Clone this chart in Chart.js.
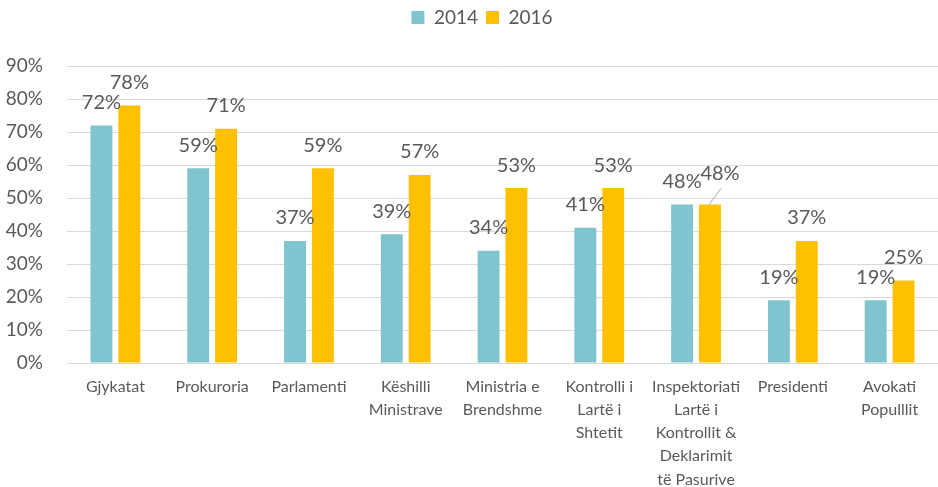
<!DOCTYPE html>
<html lang="en">
<head>
  <meta charset="UTF-8" />
  <title>Besimi në institucione 2014 / 2016</title>
  <script src="https://cdnjs.cloudflare.com/ajax/libs/Chart.js/4.4.1/chart.umd.js"></script>
  <style>
    body {
      margin: 0;
      background: #fff;
    }
    #wrap {
      width: 938px;
      height: 487px;
    }
  </style>
</head>
<body>
  <div id="wrap"><canvas id="bars"></canvas></div>

  <script>
    const categories = [
      'Gjykatat',
      'Prokuroria',
      'Parlamenti',
      ['Këshilli', 'Ministrave'],
      ['Ministria e', 'Brendshme'],
      ['Kontrolli i', 'Lartë i', 'Shtetit'],
      ['Inspektoriati', 'Lartë i', 'Kontrollit &', 'Deklarimit', 'të Pasurive'],
      'Presidenti',
      ['Avokati', 'Populllit'],
    ];
    const values2014 = [72, 59, 37, 39, 34, 41, 48, 19, 19];
    const values2016 = [78, 71, 59, 57, 53, 53, 48, 37, 25];
    const yTicks = [0, 10, 20, 30, 40, 50, 60, 70, 80, 90];

    const textColor = '#595959';
    const fontFamily = 'Lato, "Open Sans", sans-serif';

    // value labels above each bar, Excel style
    const valueLabels = {
      id: 'valueLabels',
      afterDatasetsDraw(chart) {
        const ctx = chart.ctx;
        ctx.save();
        ctx.font = '20px ' + fontFamily;
        ctx.fillStyle = textColor;
        ctx.textAlign = 'center';
        ctx.textBaseline = 'middle';
        chart.data.datasets.forEach((ds, di) => {
          chart.getDatasetMeta(di).data.forEach((bar, i) => {
            let x = bar.x, y = bar.y - 23;
            // the crowded 2016 label on Inspektoriati is pushed aside with a leader line
            if (di === 1 && i === 6) {
              x += 10;
              y -= 8;
              ctx.strokeStyle = '#a6a6a6';
              ctx.lineWidth = 1;
              ctx.beginPath();
              ctx.moveTo(x + 1, y + 15);
              ctx.lineTo(bar.x - 1, bar.y);
              ctx.stroke();
            }
            ctx.fillText(ds.data[i] + '%', x, y);
          });
        });
        ctx.restore();
      }
    };

    // fixed legend band height so the plot starts where the original does,
    // and the legend sits a little right of the canvas centre like the original
    const legendBand = {
      id: 'legendBand',
      beforeInit(chart) {
        const fit = chart.legend.fit;
        chart.legend.fit = function () {
          fit.call(this);
          this.height = 66;
        };
      },
      afterLayout(chart) {
        chart.legend.left += 13;
        chart.legend.right += 13;
      }
    };

    new Chart(document.getElementById('bars'), {
      type: 'bar',
      data: {
        labels: categories,
        datasets: [
          {
            label: '2014',
            data: values2014,
            backgroundColor: '#7fc4cf',
            categoryPercentage: 0.576,
            barPercentage: 0.786,
          },
          {
            label: '2016',
            data: values2016,
            backgroundColor: '#ffc000',
            categoryPercentage: 0.576,
            barPercentage: 0.786,
          }
        ]
      },
      options: {
        responsive: true,
        maintainAspectRatio: false,
        animation: false,
        layout: {
          padding: 0
        },
        plugins: {
          legend: {
            position: 'top',
            labels: {
              boxWidth: 13,
              boxHeight: 13,
              padding: 8,
              color: textColor,
              font: { size: 19, family: fontFamily },
            }
          },
          tooltip: { enabled: false }
        },
        scales: {
          x: {
            grid: { display: false },
            border: { color: '#d9d9d9', width: 1 },
            afterFit: scale => { scale.height = 124; },
            ticks: {
              color: textColor,
              font: { size: 16, family: fontFamily, lineHeight: 1.45 },
              maxRotation: 0,
              autoSkip: false,
              padding: 4,
            }
          },
          y: {
            min: 0,
            max: 90,
            afterBuildTicks: scale => {
              scale.ticks = yTicks.map(v => ({ value: v }));
            },
            afterFit: scale => { scale.width = 67; },
            grid: { color: '#d9d9d9', drawTicks: false, lineWidth: 1 },
            border: { display: false },
            ticks: {
              color: textColor,
              font: { size: 19, family: fontFamily },
              padding: 24,
              callback: v => v + '%',
            }
          }
        }
      },
      plugins: [valueLabels, legendBand]
    });
  </script>
</body>
</html>
